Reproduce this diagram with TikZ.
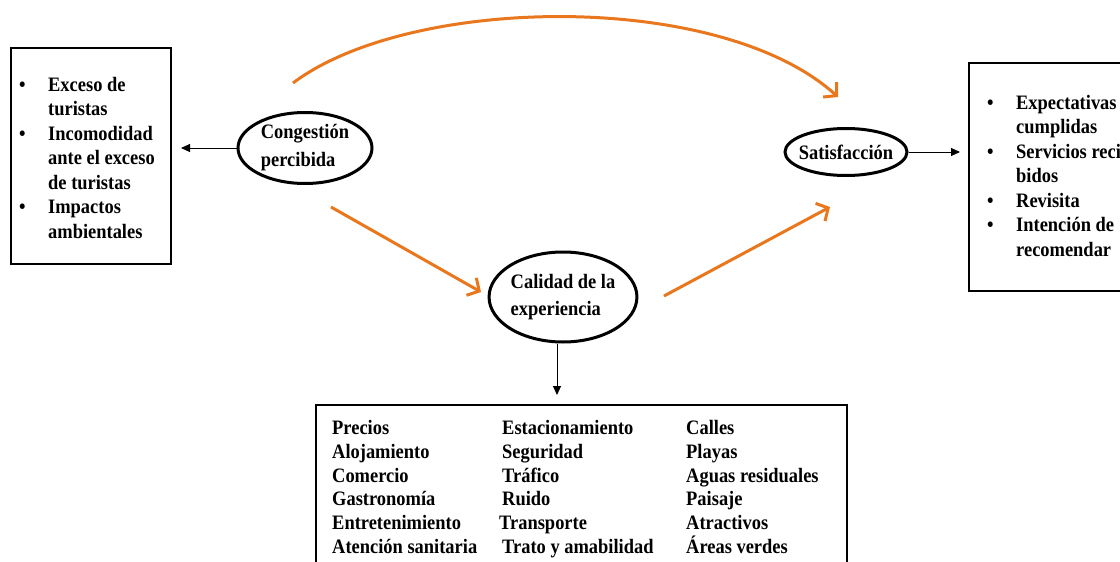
\documentclass[tikz,border=0pt]{standalone}
\usepackage{fontspec}
\setmainfont{Liberation Serif}[FakeStretch=0.9]
\usetikzlibrary{arrows.meta,shapes.geometric}
\definecolor{floworange}{HTML}{E8771E}
\begin{document}
\begin{tikzpicture}[x=1pt,y=-1pt,
  oval/.style={ellipse,draw,line width=3pt,inner sep=0pt,align=left,
    font=\bfseries\fontsize{20.5}{28}\selectfont},
  listbox/.style={draw,line width=2pt,rectangle,inner sep=0pt,anchor=north west},
  listtext/.style={anchor=north west,inner sep=0pt,align=left,
    font=\bfseries\fontsize{20.5}{24.5}\selectfont},
  gridtext/.style={listtext,font=\bfseries\fontsize{20.5}{23.8}\selectfont},
  link/.style={-{Triangle[length=9pt,width=8pt]},line width=1pt},
  flow/.style={floworange,line width=3pt,
    -{Straight Barb[length=9pt,width=20pt,line width=3pt]}}]
\useasboundingbox (0,0) rectangle (1120,562);
\clip (0,0) rectangle (1120,562);

% boxes
\node[listbox,minimum width=160pt,minimum height=216pt] (lbox) at (10,47) {};
\node[listbox,minimum width=200pt,minimum height=228pt] (rbox) at (968,62) {};
\node[listbox,minimum width=531pt,minimum height=200pt] (bbox) at (315,404) {};

% bullet lists
\node[listtext] (ltext) at (19,77)
  {\makebox[29pt][l]{•}Exceso de\\\hspace*{29pt}turistas\\
   \makebox[29pt][l]{•}Incomodidad\\\hspace*{29pt}ante el exceso\\
   \hspace*{29pt}de turistas\\
   \makebox[29pt][l]{•}Impactos\\\hspace*{29pt}ambientales};
\node[listtext] (rtext) at (987,95)
  {\makebox[29pt][l]{•}Expectativas\\\hspace*{29pt}cumplidas\\
   \makebox[29pt][l]{•}Servicios reci-\\\hspace*{29pt}bidos\\
   \makebox[29pt][l]{•}Revisita\\
   \makebox[29pt][l]{•}Intención de\\\hspace*{29pt}recomendar};

% three columns of aspects
\node[gridtext] (colA) at (332,420)
  {Precios\\Alojamiento\\Comercio\\Gastronomía\\Entretenimiento\\Atención sanitaria};
\node[gridtext] (colB) at (502,420)
  {Estacionamiento\\Seguridad\\Tráfico\\Ruido\\\hspace*{-3pt}Transporte\\Trato y amabilidad};
\node[gridtext] (colC) at (686,420)
  {Calles\\Playas\\Aguas residuales\\Paisaje\\Atractivos\\Áreas verdes};

% constructs
\node[oval,minimum width=134pt,minimum height=71pt] (cong) at (305,148) {Congestión\\percibida};
\node[oval,inner xsep=-4pt,minimum width=122pt,minimum height=47pt] (sat) at (846,152) {Satisfacción};
\node[oval,minimum width=144pt,minimum height=90pt,
  font=\bfseries\fontsize{20.5}{27}\selectfont] (cal) at (563,297) {Calidad de la\\experiencia};

% black connectors to the boxes
\draw[link,shorten >=9pt] (cong.west) -- (lbox.east |- cong.west);
\draw[link,shorten >=8pt] (sat.east) -- (rbox.west |- sat.east);
\draw[link,shorten >=9pt] ([xshift=-6pt]cal.south) -- ([xshift=-6pt]cal.south |- bbox.north);

% orange paths between constructs
\coordinate (topS) at (293,83);
\coordinate (topE) at (838,97);
\coordinate (leftS) at (331,207);
\coordinate (leftE) at (481,292);
\coordinate (rightS) at (664,296);
\coordinate (rightE) at (830,207);
\draw[flow] (topS) .. controls (410,-5) and (720,-10) .. (topE);
\draw[flow] (leftS) -- (leftE);
\draw[flow] (rightS) -- (rightE);
\end{tikzpicture}
\end{document}
